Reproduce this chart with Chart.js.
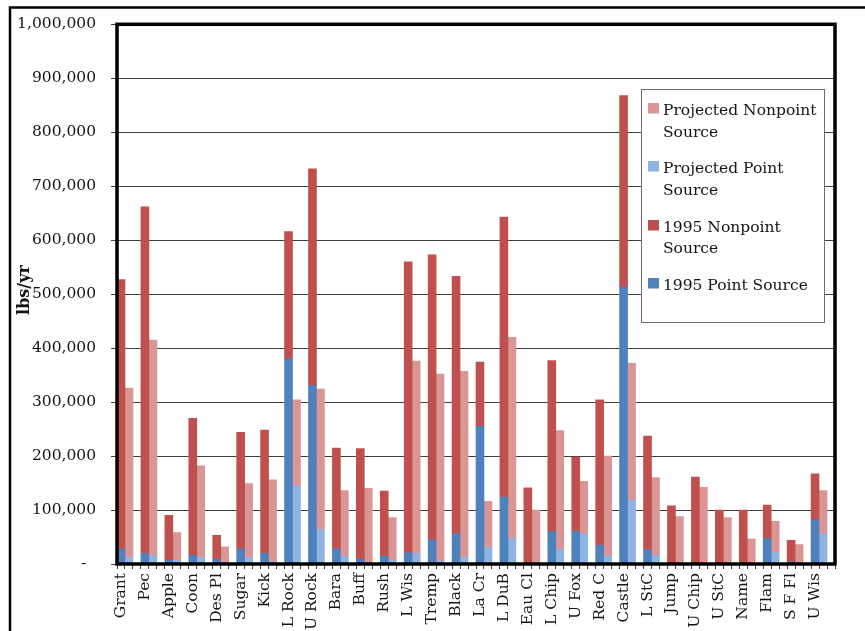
<!DOCTYPE html>
<html><head><meta charset="utf-8">
<script src="https://cdn.jsdelivr.net/npm/chart.js@4.4.1/dist/chart.umd.min.js"></script>
<style>html,body{margin:0;padding:0;background:#fff;overflow:hidden}#wrap{width:865px;height:631px;position:relative}</style>
</head><body><div id="wrap"><canvas id="c" width="865" height="631"></canvas></div>
<script>
const categories = ["Grant","Pec","Apple","Coon","Des Pl","Sugar","Kick","L Rock","U Rock","Bara","Buff","Rush","L Wis","Tremp","Black","La Cr","L DuB","Eau Cl","L Chip","U Fox","Red C","Castle","L StC","Jump","U Chip","U StC","Name","Flam","S F Fl","U Wis"];
const point1995 = [28000,20000,7000,16000,9000,28000,20000,380000,331000,28000,9000,14000,21000,45000,56000,255000,124000,2500,60000,61000,35000,513000,27000,1000,0,0,0,47000,4000,82000];
const nonpoint1995 = [499000,642000,83000,254000,44000,216000,228000,236000,401000,187000,205000,121000,539000,528000,477000,119000,519000,138500,317000,137000,269000,355000,210000,107000,161000,100000,100000,62000,40000,85000];
const pointProjected = [12000,15000,7000,12000,1000,12000,4000,145000,64000,14000,1000,7000,20000,5500,12000,31000,47000,0,27000,56000,15000,118000,16000,0,0,0,0,21000,0,56000];
const nonpointProjected = [314000,400000,51000,170000,31000,137000,152000,159000,260000,122000,139000,79000,356000,346500,345000,85000,373000,100000,220000,97000,185000,254000,144000,88000,142000,86000,46000,58000,36000,80000];
const seriesNames = ["1995 Point Source","1995 Nonpoint Source","Projected Point Source","Projected Nonpoint Source"];
const seriesColors = ["#4F81BD","#C0504D","#8EB4E3","#D99694"];
const yMax = 1000000, yStep = 100000;

const FONT = "'DejaVu Serif', serif";
const TXT = "#141414";

// Excel-style layout: each river gets three slots (1995, projected, blank gap)
const slotLabels = [];
categories.forEach(c => slotLabels.push(c, "", ""));
function spread(arr, pos) {
  const out = [];
  arr.forEach(v => { for (let k = 0; k < 3; k++) out.push(k === pos ? v : null); });
  return out;
}

const datasets = [
  {label: seriesNames[0], data: spread(point1995, 0), backgroundColor: seriesColors[0]},
  {label: seriesNames[1], data: spread(nonpoint1995, 0), backgroundColor: seriesColors[1]},
  {label: seriesNames[2], data: spread(pointProjected, 1), backgroundColor: seriesColors[2]},
  {label: seriesNames[3], data: spread(nonpointProjected, 1), backgroundColor: seriesColors[3]}
].map(d => Object.assign(d, {stack: "s", borderWidth: 0, barPercentage: 1, categoryPercentage: 1}));

const framePlugin = {
  id: "frame",
  afterDraw(chart) {
    const ctx = chart.ctx, a = chart.chartArea;
    ctx.save();
    // outer frame (left + top)
    ctx.strokeStyle = "#000"; ctx.lineWidth = 2.5;
    ctx.beginPath(); ctx.moveTo(10, 631); ctx.lineTo(10, 7.5); ctx.lineTo(865, 7.5); ctx.stroke();
    // plot border
    ctx.lineWidth = 3.5;
    ctx.strokeRect(a.left, a.top, a.right - a.left, a.bottom - a.top);
    // legend box
    const bx = 641.5, by = 89.5, bw = 183, bh = 233;
    ctx.fillStyle = "#fff"; ctx.fillRect(bx, by, bw, bh);
    ctx.strokeStyle = "#6e6e6e"; ctx.lineWidth = 1; ctx.strokeRect(bx, by, bw, bh);
    const items = [
      {c: seriesColors[3], lines: ["Projected Nonpoint", "Source"], base: [115, 137]},
      {c: seriesColors[2], lines: ["Projected Point", "Source"], base: [173, 195]},
      {c: seriesColors[1], lines: ["1995 Nonpoint", "Source"], base: [232, 253]},
      {c: seriesColors[0], lines: ["1995 Point Source"], base: [290]}
    ];
    ctx.font = "15.5px " + FONT; ctx.textBaseline = "alphabetic"; ctx.textAlign = "left";
    items.forEach(it => {
      ctx.fillStyle = it.c; ctx.fillRect(648, it.base[0] - 12, 11, 10.5);
      ctx.fillStyle = TXT;
      it.lines.forEach((t, i) => ctx.fillText(t, 663, it.base[i]));
    });
    // y axis title
    ctx.translate(25, 290); ctx.rotate(-Math.PI / 2);
    ctx.font = "bold 16px " + FONT; ctx.textAlign = "center"; ctx.textBaseline = "middle";
    ctx.fillStyle = TXT; ctx.fillText("lbs/yr", 0, 0);
    ctx.restore();
  }
};

new Chart(document.getElementById("c"), {
  type: "bar",
  data: {labels: slotLabels, datasets},
  options: {
    responsive: false, animation: false, devicePixelRatio: 1,
    layout: {padding: {top: 21, right: 30, left: 0, bottom: 0}},
    plugins: {legend: {display: false}, tooltip: {enabled: false}},
    scales: {
      x: {
        stacked: true,
        afterFit(s) { s.height = 67; },
        border: {display: false},
        grid: {drawOnChartArea: false, drawTicks: true, tickLength: 5, color: "#404040", lineWidth: 1},
        ticks: {autoSkip: false, maxRotation: 90, minRotation: 90, padding: 4, color: TXT, font: {family: FONT, size: 15.5}}
      },
      y: {
        stacked: true, min: 0, max: yMax,
        afterFit(s) { s.width = 117; },
        border: {display: false},
        grid: {color: "#404040", lineWidth: 1, tickLength: 6},
        ticks: {stepSize: yStep, padding: 15, color: TXT, font: {family: FONT, size: 15.5},
          callback: v => v === 0 ? "-\u2007" : v.toLocaleString("en-US")}
      }
    }
  },
  plugins: [framePlugin]
});
</script></body></html>
